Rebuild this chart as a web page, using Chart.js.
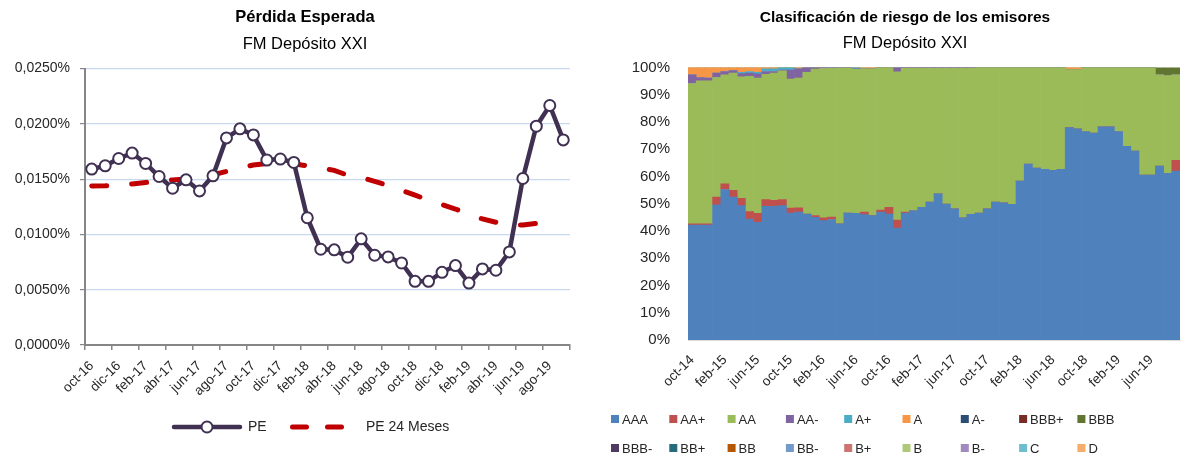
<!DOCTYPE html>
<html lang="es">
<head>
<meta charset="UTF-8">
<title>FM Depósito XXI</title>
<script src="https://cdn.jsdelivr.net/npm/chart.js@4.4.1/dist/chart.umd.min.js"></script>
<style>
  html, body { margin: 0; padding: 0; background: #fff; }
  #wrap { position: relative; width: 1185px; height: 454px; overflow: hidden; }
  #peBox { position: absolute; left: 0; top: 0; }
  #riskBox { position: absolute; left: 592px; top: 0; }
</style>
</head>
<body>
<div id="wrap">
  <div id="peBox"><canvas id="peChart" width="610" height="454"></canvas></div>
  <div id="riskBox"><canvas id="riskChart" width="593" height="454"></canvas></div>
</div>
<script>
// --- Pérdida Esperada (% ) ---
const peMonths = ['oct-16','nov-16','dic-16','ene-17','feb-17','mar-17','abr-17','may-17','jun-17','jul-17','ago-17','sep-17',
  'oct-17','nov-17','dic-17','ene-18','feb-18','mar-18','abr-18','may-18','jun-18','jul-18','ago-18','sep-18',
  'oct-18','nov-18','dic-18','ene-19','feb-19','mar-19','abr-19','may-19','jun-19','jul-19','ago-19','sep-19'];
const pe = [0.01591, 0.01621, 0.01687, 0.01736, 0.01642, 0.01524, 0.01418, 0.01494, 0.01394, 0.01530, 0.01873, 0.01955,
  0.01900, 0.01673, 0.01682, 0.01651, 0.01151, 0.00866, 0.00861, 0.00794, 0.00960, 0.00812, 0.00797, 0.00742,
  0.00576, 0.00576, 0.00657, 0.00718, 0.00560, 0.00688, 0.00676, 0.00842, 0.01506, 0.01979, 0.02166, 0.01855];
const pe24 = [0.01439, 0.01440, 0.01447, 0.01457, 0.01470, 0.01482, 0.01493, 0.01502, 0.01512, 0.01540, 0.01570, 0.01600,
  0.01628, 0.01642, 0.01650, 0.01640, 0.01620, 0.01600, 0.01580, 0.01535, 0.01515, 0.01480, 0.01443, 0.01400,
  0.01355, 0.01310, 0.01270, 0.01230, 0.01185, 0.01140, 0.01110, 0.01085, 0.01085, 0.01100, 0.01115, null];
const peTicks = [0, 0.005, 0.01, 0.015, 0.02, 0.025];

// --- Clasificación de riesgo (% de la cartera) ---
const riskMonths = ['oct-14','nov-14','dic-14',
  'ene-15','feb-15','mar-15','abr-15','may-15','jun-15','jul-15','ago-15','sep-15','oct-15','nov-15','dic-15',
  'ene-16','feb-16','mar-16','abr-16','may-16','jun-16','jul-16','ago-16','sep-16','oct-16','nov-16','dic-16',
  'ene-17','feb-17','mar-17','abr-17','may-17','jun-17','jul-17','ago-17','sep-17','oct-17','nov-17','dic-17',
  'ene-18','feb-18','mar-18','abr-18','may-18','jun-18','jul-18','ago-18','sep-18','oct-18','nov-18','dic-18',
  'ene-19','feb-19','mar-19','abr-19','may-19','jun-19','jul-19','ago-19','sep-19'];
const ratingAAA = [42.2, 42.2, 42.2, 49.6, 55.2, 52.4, 49.3, 44.4, 43.2, 49.0, 49.0, 49.3, 46.6, 46.9, 46.2, 45.0, 43.8, 44.2, 42.6, 46.6,
  46.5, 46.0, 45.6, 46.9, 46.2, 41.1, 46.6, 47.5, 48.7, 50.6, 53.6, 49.9, 48.1, 44.8, 46.1, 46.6, 48.1, 50.6, 50.3, 49.8,
  58.3, 64.5, 63.1, 62.6, 62.2, 62.6, 77.9, 77.5, 76.5, 75.9, 78.2, 78.2, 76.5, 71.0, 69.3, 60.5, 60.5, 63.8, 61.1, 62.0];
const ratingAAplus = [0.4, 0.4, 0.4, 2.8, 2.1, 2.5, 2.7, 2.7, 3.3, 2.5, 2.2, 2.2, 1.8, 1.6, 0, 0.6, 1.0, 0.9, 0, 0,
  0, 0.9, 0, 0.8, 2.5, 2.9, 0.3, 0, 0, 0, 0, 0, 0, 0, 0, 0, 0, 0, 0, 0,
  0, 0, 0, 0, 0, 0, 0, 0, 0, 0, 0, 0, 0, 0, 0, 0, 0, 0, 0, 3.9];
const ratingAA = [51.5, 52.5, 52.5, 43.9, 40.0, 43.0, 44.5, 49.6, 49.6, 46.0, 46.7, 47.2, 47.3, 47.6, 52.0, 53.8, 54.8, 54.6, 57.2, 53.2,
  52.8, 52.6, 53.9, 52.3, 51.3, 54.4, 52.8, 52.2, 51.0, 49.1, 46.1, 49.8, 51.6, 54.9, 53.6, 53.4, 51.9, 49.4, 49.7, 50.2,
  41.7, 35.5, 36.9, 37.4, 37.8, 37.4, 21.3, 21.7, 23.5, 24.1, 21.8, 21.8, 23.5, 29.0, 30.7, 39.5, 39.5, 33.5, 35.9, 31.4];
const ratingAAminus = [3.2, 1.2, 1.0, 1.6, 1.2, 0.9, 1.2, 1.2, 1.5, 1.0, 0.6, 0.3, 3.3, 3.4, 1.8, 0.6, 0.4, 0.3, 0.2, 0.2,
  0.2, 0, 0, 0, 0, 1.6, 0.3, 0.3, 0.3, 0.3, 0.3, 0.3, 0.3, 0.3, 0.3, 0, 0, 0, 0, 0,
  0, 0, 0, 0, 0, 0, 0, 0, 0, 0, 0, 0, 0, 0, 0, 0, 0, 0, 0, 0];
const ratingAplus = [0, 0, 0, 0, 0, 0, 0.5, 0.6, 0.6, 1.0, 1.0, 1.0, 1.0, 0, 0, 0, 0, 0, 0, 0,
  0.5, 0, 0, 0, 0, 0, 0, 0, 0, 0, 0, 0, 0, 0, 0, 0, 0, 0, 0, 0,
  0, 0, 0, 0, 0, 0, 0, 0, 0, 0, 0, 0, 0, 0, 0, 0, 0, 0, 0, 0];
const ratingA = [2.7, 3.7, 3.9, 2.1, 1.5, 1.2, 1.8, 1.5, 1.8, 0.5, 0.5, 0, 0, 0.5, 0, 0, 0, 0, 0, 0,
  0, 0.5, 0.5, 0, 0, 0, 0, 0, 0, 0, 0, 0, 0, 0, 0, 0, 0, 0, 0, 0,
  0, 0, 0, 0, 0, 0, 0.8, 0.8, 0, 0, 0, 0, 0, 0, 0, 0, 0, 0, 0, 0];
const ratingBBB = [0, 0, 0, 0, 0, 0, 0, 0, 0, 0, 0, 0, 0, 0, 0, 0, 0, 0, 0, 0,
  0, 0, 0, 0, 0, 0, 0, 0, 0, 0, 0, 0, 0, 0, 0, 0, 0, 0, 0, 0,
  0, 0, 0, 0, 0, 0, 0, 0, 0, 0, 0, 0, 0, 0, 0, 0, 0, 2.7, 3.0, 2.7];
const riskTicks = [0, 10, 20, 30, 40, 50, 60, 70, 80, 90, 100];

const FONT = "'Liberation Sans', Arial, sans-serif";
const TXT = '#262626';

// leyenda de líneas dibujada bajo el gráfico
const lineLegend = {
  id: 'lineLegend',
  afterDraw(chart, args, opts) {
    const ctx = chart.ctx;
    chart.data.datasets.forEach((ds, i) => {
      const it = opts.items[i];
      ctx.save();
      ctx.strokeStyle = ds.borderColor;
      ctx.lineWidth = ds.borderWidth;
      ctx.lineCap = 'round';
      ctx.setLineDash(it.dash || []);
      ctx.beginPath();
      ctx.moveTo(it.x, opts.y);
      ctx.lineTo(it.x + it.w, opts.y);
      ctx.stroke();
      ctx.setLineDash([]);
      if (ds.pointRadius) {
        ctx.beginPath();
        ctx.arc(it.x + it.w / 2, opts.y, ds.pointRadius, 0, Math.PI * 2);
        ctx.fillStyle = ds.pointBackgroundColor;
        ctx.fill();
        ctx.lineWidth = ds.pointBorderWidth;
        ctx.strokeStyle = ds.pointBorderColor;
        ctx.stroke();
      }
      ctx.fillStyle = TXT;
      ctx.font = opts.font;
      ctx.textBaseline = 'middle';
      ctx.fillText(ds.label, it.tx, opts.y);
      ctx.restore();
    });
  }
};

// leyenda en rejilla para las calificaciones
const gridLegend = {
  id: 'gridLegend',
  afterDraw(chart, args, opts) {
    const ctx = chart.ctx;
    ctx.save();
    ctx.font = opts.font;
    ctx.textBaseline = 'middle';
    chart.data.datasets.forEach((ds, i) => {
      const col = i % opts.cols, row = Math.floor(i / opts.cols);
      const x = opts.x0 + col * opts.dx, y = opts.rows[row];
      ctx.fillStyle = ds.backgroundColor;
      ctx.fillRect(x, y - opts.box / 2, opts.box, opts.box);
      ctx.fillStyle = TXT;
      ctx.fillText(ds.label, x + opts.box + 3, y + 1);
    });
    ctx.restore();
  }
};

new Chart(document.getElementById('peChart'), {
  type: 'line',
  data: {
    labels: peMonths,
    datasets: [
      { label: 'PE', data: pe, borderColor: '#403152', borderWidth: 4.5, tension: 0,
        pointRadius: 5.5, pointBackgroundColor: '#ffffff', pointBorderColor: '#403152', pointBorderWidth: 2 },
      { label: 'PE 24 Meses', data: pe24, borderColor: '#C00000', borderWidth: 5, tension: 0,
        borderDash: [15, 25], borderCapStyle: 'round', pointRadius: 0 }
    ]
  },
  options: {
    responsive: false,
    animation: false,
    layout: { padding: 0 },
    plugins: {
      legend: { display: false },
      tooltip: { enabled: false },
      title: { display: true, text: 'Pérdida Esperada', color: '#000',
        font: { family: FONT, size: 16.5, weight: 'bold' }, padding: { top: 8, bottom: 0 } },
      subtitle: { display: true, text: 'FM Depósito XXI', color: '#000',
        font: { family: FONT, size: 16.5 }, padding: { top: 7, bottom: 14 } },
      lineLegend: { y: 427, font: '14px ' + FONT,
        items: [ { x: 174, w: 66, tx: 248 }, { x: 292.5, w: 50, tx: 366, dash: [14, 21] } ] }
    },
    scales: {
      x: {
        offset: true,
        grid: { offset: true, drawOnChartArea: false, tickLength: 5, lineWidth: 1.5,
          color: c => (c.type !== 'tick' || c.index % 2 === 0) ? '#868686' : 'rgba(0,0,0,0)' },
        border: { color: '#868686', width: 2 },
        ticks: { autoSkip: false, minRotation: 45, maxRotation: 45, padding: 8, color: TXT,
          font: { family: FONT, size: 13.5 },
          callback: (v, i) => i % 2 === 0 ? peMonths[i] : '' },
        afterFit: s => { s.height = 109; s.paddingLeft = 0; s.paddingRight = 0; }
      },
      y: {
        min: 0, max: 0.025,
        afterBuildTicks: s => { s.ticks = peTicks.map(v => ({ value: v })); },
        grid: { color: '#C6D9F1', lineWidth: 1.2, tickColor: '#868686', tickLength: 5 },
        border: { color: '#868686', width: 2 },
        ticks: { padding: 10, color: TXT, font: { family: FONT, size: 14 },
          callback: v => v.toFixed(4).replace('.', ',') + '%' },
        afterFit: s => { s.width = 85; }
      },
      // eje vacío a la derecha: deja el hueco del área de trazado
      yGap: {
        position: 'right', min: 0, max: 1,
        grid: { display: false, drawTicks: false },
        border: { display: false },
        ticks: { display: false },
        afterFit: s => { s.width = 40; }
      }
    }
  },
  plugins: [lineLegend]
});

const ratingSeries = [
  ['AAA', ratingAAA, '#4F81BD'], ['AA+', ratingAAplus, '#C0504D'], ['AA', ratingAA, '#9BBB59'],
  ['AA-', ratingAAminus, '#8064A2'], ['A+', ratingAplus, '#4BACC6'], ['A', ratingA, '#F79646'],
  ['A-', [], '#2C4D75'], ['BBB+', [], '#772C2A'], ['BBB', ratingBBB, '#5F7530'],
  ['BBB-', [], '#4D3B62'], ['BB+', [], '#276A7C'], ['BB', [], '#B65708'],
  ['BB-', [], '#729ACA'], ['B+', [], '#CD7371'], ['B', [], '#AFC97A'],
  ['B-', [], '#A08BBD'], ['C', [], '#6FBDD1'], ['D', [], '#F9AB6B']
];

new Chart(document.getElementById('riskChart'), {
  type: 'bar',
  data: {
    labels: riskMonths,
    datasets: ratingSeries.map(([label, data, color]) => ({
      label, data, backgroundColor: color, borderWidth: 0, barPercentage: 1, categoryPercentage: 1
    }))
  },
  options: {
    responsive: false,
    animation: false,
    layout: { padding: { left: 38, right: 5, top: 0, bottom: 0 } },
    plugins: {
      legend: { display: false },
      tooltip: { enabled: false },
      title: { display: true, text: 'Clasificación de riesgo de los emisores', color: '#000',
        font: { family: FONT, size: 15.5, weight: 'bold' }, padding: { top: 8, bottom: 0 } },
      subtitle: { display: true, text: 'FM Depósito XXI', color: '#000',
        font: { family: FONT, size: 16.5 }, padding: { top: 7, bottom: 14 } },
      gridLegend: { x0: 19, dx: 58.3, cols: 9, rows: [419, 448], box: 8, font: '13px ' + FONT }
    },
    scales: {
      x: {
        stacked: true,
        grid: { display: false, drawTicks: false },
        border: { color: '#D9D9D9', width: 1 },
        ticks: { autoSkip: false, minRotation: 45, maxRotation: 45, padding: 12, color: TXT,
          font: { family: FONT, size: 13.5 },
          callback: (v, i) => i % 4 === 0 ? riskMonths[i] : '' },
        afterFit: s => { s.height = 114; s.paddingLeft = 0; s.paddingRight = 0; }
      },
      y: {
        stacked: true, min: 0, max: 100,
        afterBuildTicks: s => { s.ticks = riskTicks.map(v => ({ value: v })); },
        grid: { display: false, drawTicks: false },
        border: { display: false },
        ticks: { padding: 18, color: TXT, font: { family: FONT, size: 15 }, callback: v => v + '%' },
        afterFit: s => { s.width = 58; }
      }
    }
  },
  plugins: [gridLegend]
});
</script>
</body>
</html>
